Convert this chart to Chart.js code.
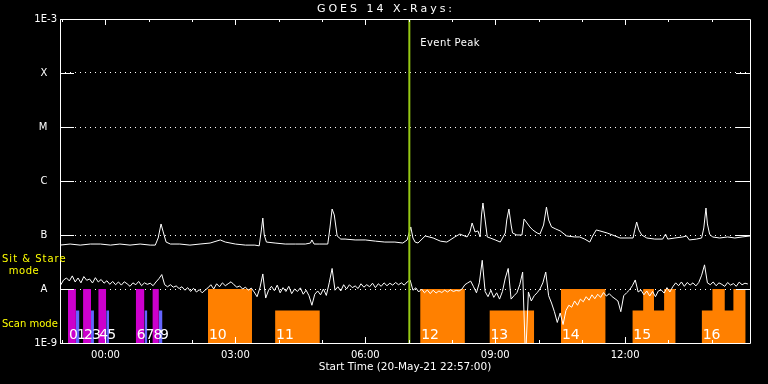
<!DOCTYPE html>
<html lang="en">
<head>
    <meta charset="UTF-8">
    <title>GOES 14 X-Rays</title>
    <script src="https://cdn.jsdelivr.net/npm/chart.js@4.4.1/dist/chart.umd.min.js"></script>
    <style>
        html, body { margin: 0; padding: 0; background: #000; }
        .wrap { width: 768px; height: 384px; position: relative; }
    </style>
</head>
<body>
    <div class="wrap"><canvas id="xrayChart"></canvas></div>
    <script>
        // time axis: minutes relative to 00:00 on 21-May-21 (start 22:57 on 20-May)
        const startMin = -63;
        const endMin = 893;
        const hourTickMins = [-60, 0, 60, 120, 180, 240, 300, 360, 420, 480, 540, 600, 660, 720, 780, 840];
        const timeTickMins = [0, 180, 360, 540, 720];
        const timeTickLabels = ['00:00', '03:00', '06:00', '09:00', '12:00'];

        // flux class ticks
        const classExps = [-9, -8, -7, -6, -5, -4, -3];
        const classLabels = ['1E-9', 'A', 'B', 'C', 'M', 'X', '1E-3'];

        // long channel, units of 1e-8 W/m^2
        const longTimes = [
            -63, -49, -35, -21, -7, 7, 20, 34, 48, 62,
            69, 73, 77, 80, 84, 90, 103, 117, 131, 145,
            159, 166, 180, 194, 207, 213, 216, 218, 220, 223,
            235, 249, 263, 277, 284, 286, 289, 297, 308, 311,
            314, 317, 321, 326, 332, 346, 360, 374, 387, 401,
            412, 418, 423, 426, 429, 433, 443, 454, 464, 473,
            484, 491, 501, 505, 508, 512, 516, 519, 521, 523,
            526, 529, 533, 540, 547, 554, 556, 559, 562, 564,
            570, 577, 580, 584, 588, 592, 598, 602, 607, 611,
            614, 618, 624, 630, 639, 650, 657, 664, 671, 675,
            680, 685, 695, 706, 713, 724, 731, 733, 736, 739,
            743, 750, 761, 772, 776, 779, 789, 800, 805, 809,
            819, 826, 829, 832, 834, 837, 841, 851, 862, 872,
            882, 893
        ];
        const longFlux = [
            6.5, 6.8, 6.5, 6.8, 6.8, 6.5, 6.8, 6.5, 6.8, 6.5,
            6.5, 8.8, 16.0, 11.4, 7.4, 6.8, 6.8, 6.5, 6.8, 7.1,
            8.1, 7.4, 6.8, 6.5, 6.5, 6.3, 12.4, 20.6, 10.0, 7.4,
            7.1, 6.8, 6.8, 6.8, 7.1, 8.1, 6.8, 6.8, 6.8, 13.5,
            30.3, 23.5, 9.6, 8.4, 8.4, 8.1, 8.1, 7.7, 7.4, 7.4,
            7.1, 8.1, 14.1, 8.8, 7.4, 7.1, 9.6, 8.8, 7.7, 7.4,
            9.2, 10.4, 9.2, 11.4, 16.7, 11.4, 11.9, 9.2, 23.5, 39.1,
            19.0, 9.2, 8.8, 8.1, 7.4, 10.9, 19.0, 30.3, 15.3, 10.9,
            10.0, 10.0, 19.8, 16.7, 14.1, 12.4, 10.9, 10.4, 15.3, 33.0,
            19.0, 14.1, 12.9, 11.9, 9.6, 9.2, 9.2, 8.4, 7.4, 9.6,
            12.4, 11.9, 10.9, 9.6, 8.8, 8.8, 8.8, 11.9, 17.4, 12.4,
            10.0, 8.8, 8.4, 8.4, 10.4, 8.4, 8.8, 9.2, 9.6, 8.1,
            8.4, 8.8, 13.5, 31.6, 16.0, 10.4, 9.2, 8.8, 9.2, 8.8,
            9.2, 9.6
        ];

        // short channel, units of 1e-8 W/m^2, one sample every 4 min from -62
        const shortFirstMin = -62;
        const shortStepMin = 4;
        const shortFlux = [
            1.19, 1.47, 1.6, 1.41, 1.75, 1.35, 1.6, 1.3, 1.7, 1.45,
            1.53, 1.29, 1.62, 1.35, 1.5, 1.28, 1.42, 1.22, 1.38, 1.2,
            1.35, 1.18, 1.36, 1.25, 1.12, 1.3, 1.2, 1.38, 1.15, 1.3,
            1.22, 1.28, 1.15, 1.35, 1.55, 1.85, 1.2, 1.1, 1.2, 1.08,
            1.14, 1.02, 1.1, 0.95, 1.06, 0.9, 1.03, 0.88, 0.97, 0.85,
            0.95, 1.05, 1.2, 1.0, 1.25, 1.1, 1.3, 1.15, 1.25, 1.36,
            1.2, 1.08, 1.14, 1.0, 1.08, 0.95, 1.04, 0.88, 0.72, 1.05,
            1.9, 0.68, 0.95, 1.12, 0.93, 1.18, 0.85, 1.06, 0.9, 1.12,
            0.82, 1.0, 0.9, 1.05, 0.8, 0.95, 0.75, 0.5, 0.8, 0.92,
            0.78, 1.0, 0.76, 1.3, 2.4, 0.95, 1.1, 0.92, 1.2, 1.0,
            1.2, 1.06, 1.14, 1.02, 1.25, 1.08, 1.2, 1.1, 1.28, 1.06,
            1.25, 1.12, 1.3, 1.15, 1.28, 1.18, 1.32, 1.2, 1.3, 1.18,
            1.35, 1.47, 0.95, 1.05, 0.88, 1.0, 0.85, 0.96, 0.82, 0.95,
            0.84, 0.92, 0.86, 0.95, 0.88, 0.97, 0.9, 0.94, 0.92, 1.0,
            1.2, 1.3, 1.4, 1.1, 0.85, 1.3, 3.4, 0.9, 0.72, 0.95,
            0.7, 0.85, 0.65, 0.9, 1.6, 2.4, 0.65, 0.75, 0.85, 1.2,
            2.06, 0.05, 0.88, 0.6, 0.75, 0.85, 1.0, 1.3, 2.06, 0.75,
            0.55, 0.38, 0.24, 0.36, 0.22, 0.4, 0.5, 0.46, 0.6, 0.5,
            0.65, 0.58, 0.72, 0.62, 0.78, 0.66, 0.8, 0.7, 0.86, 0.74,
            0.82, 0.72, 0.66, 0.6, 0.38, 0.75, 0.85, 0.96, 1.15, 1.47,
            0.88, 0.96, 0.78, 0.92, 0.74, 0.9, 0.72, 0.92, 0.96, 0.84,
            1.06, 0.88, 1.1, 1.3, 1.15, 1.35, 1.12, 1.32, 1.18, 1.3,
            1.14, 1.32, 1.8, 2.8, 1.3, 1.2, 1.35, 1.15, 1.3, 1.22,
            1.12, 1.32, 1.18, 1.26, 1.12, 1.34, 1.2, 1.28, 1.24
        ];

        const peakMin = 421;

        // observing blocks: one entry per segment
        const segBlock = [0, 1, 2, 3, 4, 5, 6, 7, 8, 9, 10, 11, 12, 13, 14, 15, 15, 15, 15, 16, 16, 16, 16];
        const segMode = ['stare', 'scan', 'stare', 'scan', 'stare', 'scan', 'stare', 'scan', 'stare', 'scan',
            'stare', 'scan', 'stare', 'scan', 'stare',
            'scan', 'stare', 'scan', 'stare', 'scan', 'stare', 'scan', 'stare'];
        const segStart = [-52, -41, -31, -20, -10, 1, 42, 54, 65, 74, 142, 235, 436, 532, 631, 730, 745, 760, 774, 826, 841, 858, 870];
        const segEnd = [-41, -36, -20, -16, 1, 5, 54, 58, 74, 79, 203, 297, 498, 594, 693, 745, 760, 774, 790, 841, 858, 870, 887];
        const stareLevel = 1e-8;
        const scanLevel = 4e-9;

        const toFlux = v => v * 1e-8;
        const FONT = 'DejaVu Sans';

        function blockColor(id) {
            if (id >= 10) return '#ff8000';
            return id % 2 === 0 ? '#cc00cc' : '#6464ff';
        }

        const longData = longTimes.map((t, i) => ({ x: t, y: toFlux(longFlux[i]) }));
        const shortData = shortFlux.map((v, i) => ({ x: shortFirstMin + i * shortStepMin, y: toFlux(v) }));

        const blockIds = [...new Set(segBlock)];
        const blockSets = blockIds.map(id => {
            const pts = [];
            segBlock.forEach((b, i) => {
                if (b !== id) return;
                const lvl = segMode[i] === 'stare' ? stareLevel : scanLevel;
                pts.push({ x: segStart[i], y: lvl }, { x: segEnd[i], y: lvl });
            });
            return {
                data: pts,
                fill: 'start',
                backgroundColor: blockColor(id),
                borderColor: 'rgba(0,0,0,0)',
                borderWidth: 0,
                pointRadius: 0,
                order: 3
            };
        });

        function drawText(ctx, text, x, y, font, color, align, spacing) {
            ctx.save();
            ctx.font = font;
            ctx.fillStyle = color;
            ctx.textAlign = align || 'left';
            ctx.textBaseline = 'middle';
            ctx.letterSpacing = (spacing || 0) + 'px';
            ctx.fillText(text, x, y);
            ctx.restore();
        }

        // frame, inward tick marks and annotations
        const framePlugin = {
            id: 'frame',
            afterDatasetsDraw(chart) {
                const ctx = chart.ctx;
                const xs = chart.scales.x;
                const area = chart.chartArea;
                ctx.save();
                ctx.font = '14px "' + FONT + '"';
                ctx.fillStyle = '#fff';
                ctx.textBaseline = 'alphabetic';
                blockIds.forEach(id => {
                    const first = segBlock.indexOf(id);
                    ctx.fillText(String(id), xs.getPixelForValue(segStart[first]) + 1, area.bottom - 4);
                });
                ctx.restore();
            },
            afterDraw(chart) {
                const ctx = chart.ctx;
                const xs = chart.scales.x;
                const ys = chart.scales.y;
                const a = chart.chartArea;
                ctx.save();
                ctx.strokeStyle = '#fff';
                ctx.lineWidth = 1;
                ctx.beginPath();
                ctx.rect(Math.round(a.left) + 0.5, Math.round(a.top) + 0.5, Math.round(a.right - a.left), Math.round(a.bottom - a.top));
                hourTickMins.forEach(v => {
                    const px = Math.round(xs.getPixelForValue(v)) + 0.5;
                    const len = v % 180 === 0 ? 6 : 3;
                    ctx.moveTo(px, a.bottom);
                    ctx.lineTo(px, a.bottom - len);
                    ctx.moveTo(px, a.top);
                    ctx.lineTo(px, a.top + len);
                });
                classExps.slice(1, -1).forEach(e => {
                    const py = Math.round(ys.getPixelForValue(Math.pow(10, e))) + 0.5;
                    ctx.moveTo(a.left, py);
                    ctx.lineTo(a.left + 14, py);
                    ctx.moveTo(a.right, py);
                    ctx.lineTo(a.right - 14, py);
                });
                ctx.stroke();
                ctx.restore();

                drawText(ctx, 'GOES 14 X-Rays:', 386, 9, '11px "' + FONT + '"', '#fff', 'center', 3);
                drawText(ctx, 'Event Peak', xs.getPixelForValue(peakMin) + 11, 43, '10px "' + FONT + '"', '#fff', 'left', 0.4);
                drawText(ctx, 'Sit & Stare', 2, 259, '10px "' + FONT + '"', '#ffff00', 'left', 1);
                drawText(ctx, 'mode', 24, 271, '10px "' + FONT + '"', '#ffff00', 'center', 0.5);
                drawText(ctx, 'Scan mode', 2, 324, '10px "' + FONT + '"', '#ffff00', 'left', 0);
            }
        };

        const chart = new Chart(document.getElementById('xrayChart'), {
            type: 'line',
            data: {
                datasets: [
                    {
                        label: 'Event Peak',
                        data: [{ x: peakMin, y: 1e-9 }, { x: peakMin, y: 1e-3 }],
                        borderColor: 'rgb(150, 200, 20)',
                        borderWidth: 2,
                        pointRadius: 0,
                        order: 0
                    },
                    {
                        label: 'Long',
                        data: longData,
                        borderColor: '#fff',
                        borderWidth: 1,
                        pointRadius: 0,
                        order: 1
                    },
                    {
                        label: 'Short',
                        data: shortData,
                        borderColor: '#fff',
                        borderWidth: 1,
                        pointRadius: 0,
                        order: 2
                    },
                    ...blockSets
                ]
            },
            options: {
                responsive: true,
                maintainAspectRatio: false,
                animation: false,
                devicePixelRatio: 1,
                layout: { padding: { left: 0, right: 18, top: 19, bottom: 0 } },
                plugins: {
                    legend: { display: false },
                    tooltip: { enabled: false }
                },
                scales: {
                    x: {
                        type: 'linear',
                        min: startMin,
                        max: endMin,
                        afterBuildTicks: s => { s.ticks = hourTickMins.map(v => ({ value: v })); },
                        afterFit: s => { s.height = 41; },
                        grid: { display: false, drawTicks: false },
                        border: { display: false },
                        ticks: {
                            color: '#fff',
                            font: { family: FONT, size: 10 },
                            padding: 6,
                            maxRotation: 0,
                            autoSkip: false,
                            callback: v => {
                                const k = timeTickMins.indexOf(v);
                                return k >= 0 ? timeTickLabels[k] : '';
                            }
                        },
                        title: {
                            display: true,
                            text: 'Start Time (20-May-21 22:57:00)',
                            color: '#fff',
                            font: { family: FONT, size: 10.5 },
                            padding: { top: 0, bottom: 10 }
                        }
                    },
                    y: {
                        type: 'logarithmic',
                        min: 1e-9,
                        max: 1e-3,
                        afterBuildTicks: s => { s.ticks = classExps.map(e => ({ value: Math.pow(10, e) })); },
                        afterFit: s => { s.width = 60; },
                        grid: { color: '#fff', lineWidth: 1, drawTicks: false },
                        border: { display: false, dash: [1, 4] },
                        ticks: {
                            color: '#fff',
                            padding: 3,
                            font: { family: FONT, size: 10 },
                            callback: (v, i) => {
                                const lbl = classLabels[i];
                                return lbl.length === 1 ? lbl + '   ' : lbl;
                            }
                        }
                    }
                }
            },
            plugins: [framePlugin]
        });
    </script>
</body>
</html>
